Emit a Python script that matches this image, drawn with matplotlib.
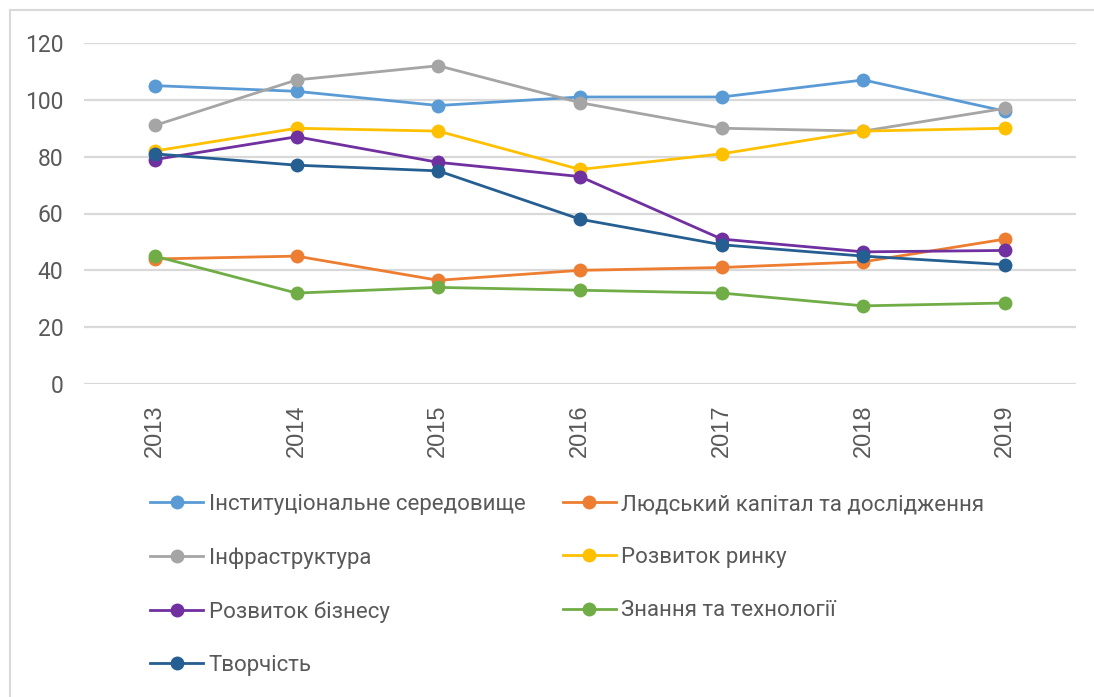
import matplotlib
matplotlib.use("Agg")
import matplotlib.pyplot as plt
from matplotlib.lines import Line2D

years = ["2013", "2014", "2015", "2016", "2017", "2018", "2019"]

institutions = [105, 103, 98, 101, 101, 107, 96]
human_capital = [44, 45, 36.5, 40, 41, 43, 51]
infrastructure = [91, 107, 112, 99, 90, 89, 97]
market = [82, 90, 89, 75.5, 81, 89, 90]
business = [79, 87, 78, 73, 51, 46.5, 47]
knowledge = [45, 32, 34, 33, 32, 27.5, 28.5]
creativity = [81, 77, 75, 58, 49, 45, 42]

series_names = [
    "Інституціональне середовище",
    "Людський капітал та дослідження",
    "Інфраструктура",
    "Розвиток ринку",
    "Розвиток бізнесу",
    "Знання та технології",
    "Творчість",
]
series_values = [institutions, human_capital, infrastructure, market,
                 business, knowledge, creativity]
colors = ["#5B9BD5", "#ED7D31", "#A5A5A5", "#FFC000",
          "#7030A0", "#70AD47", "#255E91"]

fonts = ["Roboto", "DejaVu Sans"]
text_color = "#595959"

fig = plt.figure(figsize=(10.94, 6.97), dpi=100)
ax = fig.add_axes([84 / 1094, 1 - 384 / 697, (1076 - 84) / 1094, (384 - 43) / 697])

x = list(range(len(years)))
handles = []
for name, vals, col in zip(series_names, series_values, colors):
    (h,) = ax.plot(x, vals, color=col, lw=2.0, marker="o", markersize=10,
                   markeredgewidth=0, label=name, zorder=3)
    handles.append(h)

ax.set_xlim(-0.5, len(years) - 0.5)
ax.set_ylim(0, 120)
ax.set_yticks(range(0, 121, 20))
ax.set_xticks(x)
ax.set_xticklabels(years, rotation=90, fontsize=17, color=text_color,
                   family=["Liberation Sans", "DejaVu Sans"])
ax.set_yticklabels([str(v) for v in range(0, 121, 20)], fontsize=16.5,
                   color=text_color, family=fonts)
ax.tick_params(axis="both", length=0)
ax.tick_params(axis="y", pad=15)
ax.tick_params(axis="x", pad=15)
ax.grid(axis="y", color="#D9D9D9", lw=1.6, zorder=0)
for s in ax.spines.values():
    s.set_visible(False)

# legend filled row by row, like the original
order = [0, 2, 4, 6, 1, 3, 5]
leg = fig.legend(
    [handles[i] for i in order],
    [series_names[i] for i in order],
    ncol=2,
    loc="upper left",
    bbox_to_anchor=(150 / 1094, 1 - 494 / 697),
    frameon=False,
    prop={"family": fonts, "size": 16},
    labelcolor=text_color,
    handlelength=2.4,
    handletextpad=0.25,
    columnspacing=1.66,
    labelspacing=1.45,
    borderaxespad=0,
    borderpad=0,
)

# light chart frame
fig.add_artist(Line2D([10 / 1094, 10 / 1094], [0, 1 - 10 / 697],
                      color="#D9D9D9", lw=1.5, transform=fig.transFigure))
fig.add_artist(Line2D([10 / 1094, 1], [1 - 10 / 697, 1 - 10 / 697],
                      color="#D9D9D9", lw=1.5, transform=fig.transFigure))

fig.savefig("out.png", dpi=100, facecolor="white")
